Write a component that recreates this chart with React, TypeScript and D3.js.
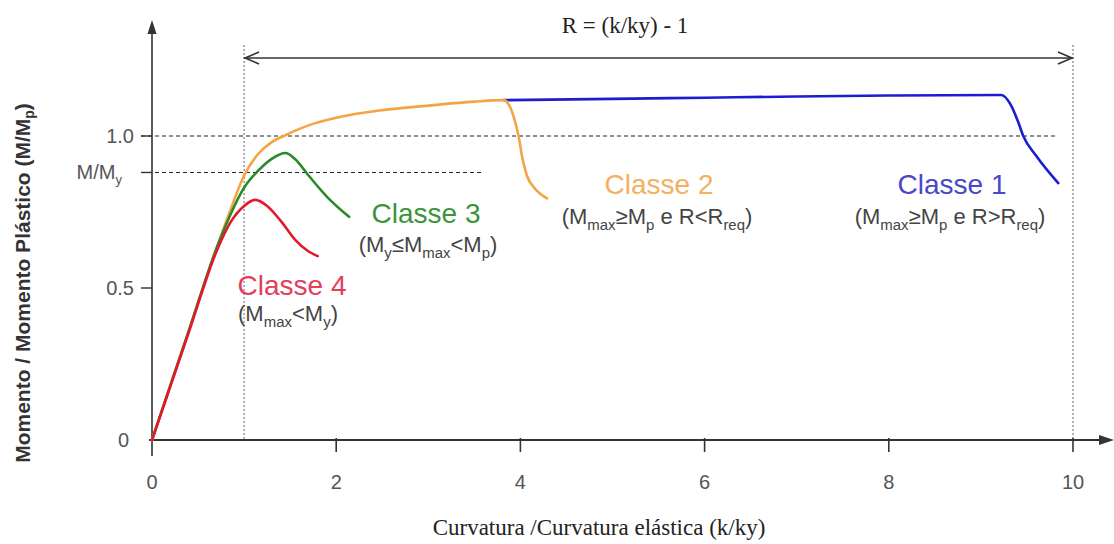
import React from "react";
import * as d3 from "d3";

const W = 1114;
const H = 544;

const xTickValues = [2, 4, 6, 8, 10];
const xTickLabels = ["0", "2", "4", "6", "8", "10"];
const xTickLabelValues = [0, 2, 4, 6, 8, 10];
const yTickValues = [0.5, 1.0];
const yTickLabelValues = [0, 0.5, 1.0];
const yTickLabels = ["0", "0.5", "1.0"];
const myRatio = 0.88;
const rStart = 1;
const rEnd = 10;

// Classe 4 (red)
const classe4X = [0, 0.4, 0.7, 0.85, 1.0, 1.12, 1.25, 1.4, 1.55, 1.7, 1.8];
const classe4Y = [0, 0.355, 0.62, 0.715, 0.77, 0.79, 0.77, 0.72, 0.66, 0.62, 0.605];
// Classe 3 (green)
const classe3X = [0, 0.4, 0.7, 0.85, 1.0, 1.15, 1.3, 1.45, 1.55, 1.7, 1.9, 2.14];
const classe3Y = [0, 0.36, 0.63, 0.74, 0.83, 0.885, 0.925, 0.944, 0.925, 0.87, 0.8, 0.734];
// Classe 2 (orange)
const classe2X = [0, 0.4, 0.7, 0.85, 1.0, 1.15, 1.3, 1.43, 1.7, 2.0, 2.5, 3.0, 3.5, 3.82, 3.88, 3.94, 3.98, 4.02, 4.07, 4.15, 4.29];
const classe2Y = [0, 0.36, 0.63, 0.755, 0.87, 0.94, 0.98, 1.0, 1.035, 1.06, 1.085, 1.1, 1.113, 1.118, 1.1, 1.05, 1.0, 0.93, 0.87, 0.83, 0.795];
// Classe 1 (blue)
const classe1X = [3.82, 5.0, 6.0, 7.0, 8.0, 9.22, 9.32, 9.4, 9.46, 9.6, 9.84];
const classe1Y = [1.118, 1.122, 1.126, 1.13, 1.133, 1.135, 1.105, 1.05, 1.0, 0.935, 0.845];

const SANS = "'Liberation Sans', Arial, sans-serif";
const SERIF = "'Liberation Serif', 'Times New Roman', serif";

function zip(xs: number[], ys: number[]): [number, number][] {
  return xs.map((v, i) => [v, ys[i]]);
}

export default function App() {
  const x = d3.scaleLinear().domain([0, 10]).range([152, 1073]);
  const y = d3.scaleLinear().domain([0, 1]).range([440, 136]);
  const line = d3
    .line<[number, number]>()
    .x((d) => x(d[0]))
    .y((d) => y(d[1]))
    .curve(d3.curveMonotoneX);

  const axisColor = "#333";
  const tickText = "#555";
  const x0 = x(0);
  const y0 = y(0);

  const series = [
    { xs: classe1X, ys: classe1Y, color: "#1c1cd2" },
    { xs: classe2X, ys: classe2Y, color: "#f4a444" },
    { xs: classe3X, ys: classe3Y, color: "#2a8a2a" },
    { xs: classe4X, ys: classe4Y, color: "#e3192b" },
  ];

  const subFs = 22;
  const subLabel = (parts: (string | [string])[], cx: number, cy: number) => {
    const out: React.ReactNode[] = [];
    let shifted = false;
    parts.forEach((p, i) => {
      if (Array.isArray(p)) {
        out.push(
          <tspan key={i} dy={shifted ? 0 : subFs * 0.28} fontSize={subFs * 0.68}>
            {p[0]}
          </tspan>
        );
        shifted = true;
      } else {
        out.push(
          <tspan key={i} dy={shifted ? -subFs * 0.28 : 0}>
            {p}
          </tspan>
        );
        shifted = false;
      }
    });
    return (
      <text x={cx} y={cy} textAnchor="middle" fontFamily={SANS} fontSize={subFs} fill="#444">
        {out}
      </text>
    );
  };

  const titleFs = 28;

  return (
    <svg
      width={W}
      height={H}
      style={{ position: "absolute", left: 0, top: 0, background: "#fff" }}
    >
      {/* dotted verticals */}
      {[rStart, rEnd].map((v) => (
        <line
          key={v}
          x1={x(v)}
          x2={x(v)}
          y1={45}
          y2={y0}
          stroke="#888"
          strokeWidth={1.3}
          strokeDasharray="2,2"
        />
      ))}
      {/* dashed horizontals */}
      <line x1={x0 - 11} x2={1056} y1={y(1)} y2={y(1)} stroke="#222" strokeWidth={1.2} strokeDasharray="4,3" />
      <line x1={x0 - 11} x2={482} y1={y(myRatio)} y2={y(myRatio)} stroke="#222" strokeWidth={1.2} strokeDasharray="4,3" />

      {/* R arrow */}
      <g stroke={axisColor} strokeWidth={1.6} fill="none">
        <line x1={x(rStart)} x2={x(rEnd)} y1={58} y2={58} />
        <polyline points={`${x(rStart) + 15},${52} ${x(rStart) + 1},${58} ${x(rStart) + 15},${64}`} />
        <polyline points={`${x(rEnd) - 15},${52} ${x(rEnd) - 1},${58} ${x(rEnd) - 15},${64}`} />
      </g>
      <text x={625} y={33} textAnchor="middle" fontFamily={SERIF} fontSize={23} fill="#222">
        R = (k/ky) - 1
      </text>

      {/* axes */}
      <line x1={x0} x2={x0} y1={y0 + 16} y2={30} stroke={axisColor} strokeWidth={1.6} />
      <polygon points={`${x0},${20} ${x0 - 4.5},${34} ${x0 + 4.5},${34}`} fill={axisColor} />
      <line x1={x0 - 3} x2={1104} y1={y0} y2={y0} stroke={axisColor} strokeWidth={1.8} />
      <polygon points={`${1114},${y0} ${1099},${y0 - 5} ${1099},${y0 + 5}`} fill={axisColor} />

      {xTickValues.map((v) => (
        <line key={v} x1={x(v)} x2={x(v)} y1={y0 - 2} y2={y0 + 12} stroke={axisColor} strokeWidth={1.6} />
      ))}
      {xTickLabelValues.map((v, i) => (
        <text key={v} x={x(v)} y={489} textAnchor="middle" fontFamily={SANS} fontSize={20} fill={tickText}>
          {xTickLabels[i]}
        </text>
      ))}

      {yTickValues.map((v) => (
        <line key={v} x1={x0 - 11} x2={x0} y1={y(v)} y2={y(v)} stroke={axisColor} strokeWidth={1.4} />
      ))}
      <line x1={x0 - 11} x2={x0} y1={y(myRatio)} y2={y(myRatio)} stroke={axisColor} strokeWidth={1.4} />
      {yTickLabelValues.map((v, i) => (
        <text
          key={v}
          x={v === 0 ? 129 : 134}
          y={y(v) + 7}
          textAnchor="end"
          fontFamily={SANS}
          fontSize={20}
          fill={tickText}
        >
          {yTickLabels[i]}
        </text>
      ))}
      <text x={122} y={y(myRatio) + 7} textAnchor="end" fontFamily={SANS} fontSize={20} fill={tickText}>
        M/M
        <tspan dy={5} fontSize={13}>
          y
        </tspan>
      </text>

      {/* axis titles */}
      <text
        transform={`translate(30,${283}) rotate(-90)`}
        textAnchor="middle"
        fontFamily={SANS}
        fontWeight="bold"
        fontSize={21}
        fill="#333"
      >
        Momento / Momento Plástico (M/M
        <tspan dy={4} fontSize={14}>
          p
        </tspan>
        <tspan dy={-4}>)</tspan>
      </text>
      <text x={599} y={535} textAnchor="middle" fontFamily={SERIF} fontSize={23} fill="#222">
        Curvatura /Curvatura elástica (k/ky)
      </text>

      {/* curves */}
      {series.map((s, i) => (
        <path
          key={i}
          d={line(zip(s.xs, s.ys)) || ""}
          fill="none"
          stroke={s.color}
          strokeWidth={2.6}
          strokeLinejoin="round"
          strokeLinecap="round"
        />
      ))}

      {/* class labels */}
      <text x={952} y={194} textAnchor="middle" fontFamily={SANS} fontSize={titleFs} fill="#4848c8">
        Classe 1
      </text>
      {subLabel(["(M", ["max"], "≥M", ["p"], " e R>R", ["req"], ")"], 950, 224)}

      <text x={659} y={194} textAnchor="middle" fontFamily={SANS} fontSize={titleFs} fill="#f2b060">
        Classe 2
      </text>
      {subLabel(["(M", ["max"], "≥M", ["p"], " e R<R", ["req"], ")"], 657, 224)}

      <text x={426} y={223} textAnchor="middle" fontFamily={SANS} fontSize={titleFs} fill="#3a953a">
        Classe 3
      </text>
      {subLabel(["(M", ["y"], "≤M", ["max"], "<M", ["p"], ")"], 428, 252)}

      <text x={292} y={295} textAnchor="middle" fontFamily={SANS} fontSize={titleFs} fill="#e2405a">
        Classe 4
      </text>
      {subLabel(["(M", ["max"], "<M", ["y"], ")"], 288, 321)}
    </svg>
  );
}
